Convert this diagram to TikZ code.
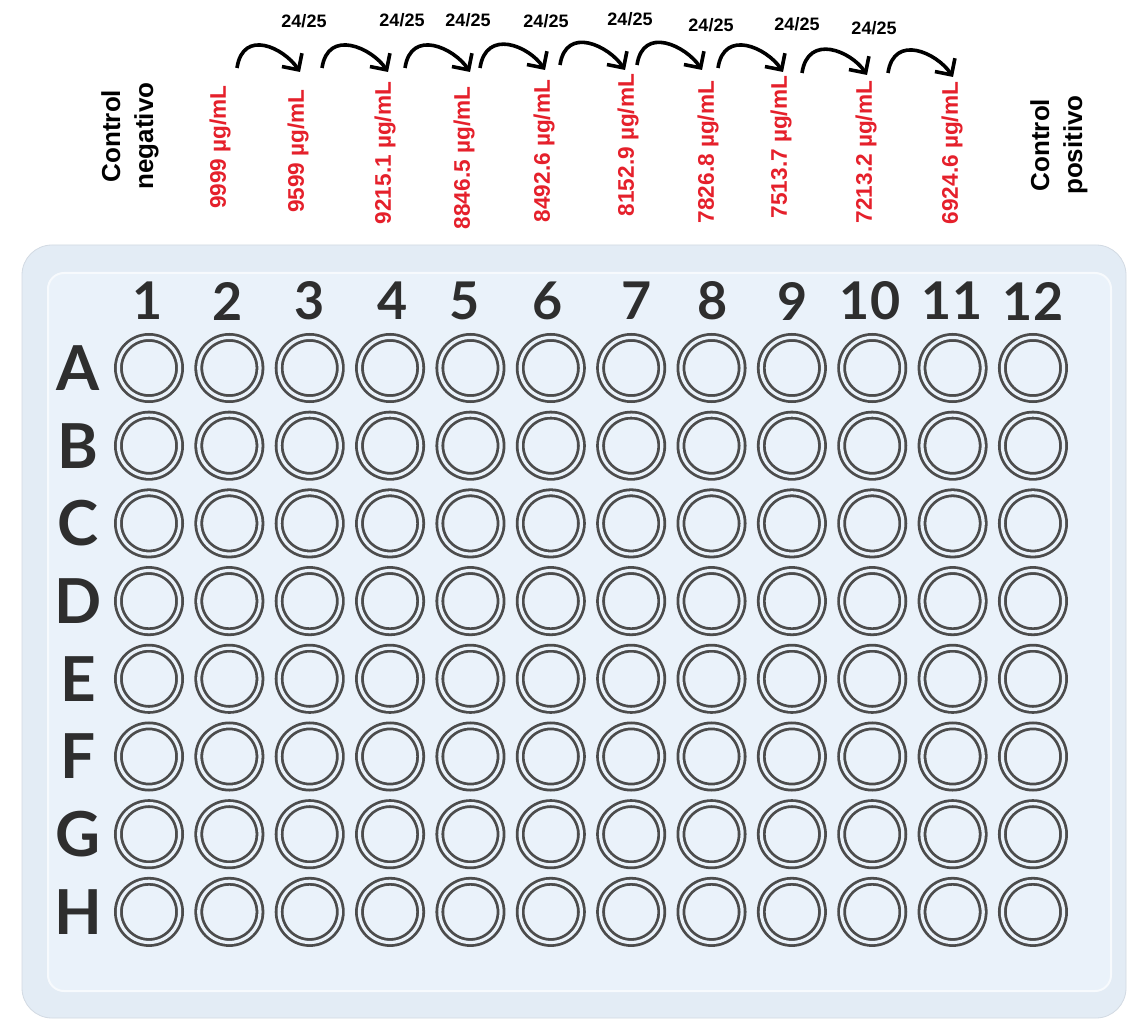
\documentclass[tikz,border=0pt]{standalone}
\usepackage{fontspec}
\setmainfont{Liberation Sans}
\newfontfamily\platefont{Lato}
\usetikzlibrary{arrows.meta}

\definecolor{plateblue}{HTML}{E3ECF5}
\definecolor{wellblue}{HTML}{EAF2FA}
\definecolor{rimgray}{HTML}{D2DAE3}
\definecolor{ringgray}{HTML}{4C4C4C}
\definecolor{concred}{HTML}{E5202B}
\definecolor{labelgray}{HTML}{2E2E2E}

\tikzset{
  conc/.style={rotate=90, text=concred, inner sep=0pt,
    font=\fontsize{11.3}{12}\selectfont\bfseries},
  ratio/.style={inner sep=0pt, font=\fontsize{9}{10}\selectfont\bfseries},
  ctrl/.style={rotate=90, align=center, inner sep=0pt,
    font=\fontsize{13}{16.5}\selectfont\bfseries},
  colnum/.style={text=labelgray, inner sep=0pt,
    font=\platefont\bfseries\fontsize{26}{28}\selectfont},
  rowlet/.style={text=labelgray, inner sep=0pt,
    font=\platefont\bfseries\fontsize{31}{33}\selectfont},
  well/.style={circle, minimum size=30.6pt, inner sep=0pt, draw=ringgray,
    line width=1.4pt, double=wellblue, double distance=1.6pt},
  transfer/.style={line width=1.8pt, -{Straight Barb[length=6pt,width=12pt]}},
}

\begin{document}
\begin{tikzpicture}[x=0.5pt, y=-0.5pt]
\fill[white] (0,0) rectangle (1128,1020);
\useasboundingbox (0,0) rectangle (1128,1020);

% plate body
\draw[fill=plateblue, draw=rimgray, rounded corners=15pt] (22,245) rectangle (1126,1018);
\draw[fill=wellblue, draw=white!60!wellblue, line width=1pt, rounded corners=8pt] (48,273) rectangle (1111,991);

% column numbers
\foreach \x [count=\c] in {148,228,310,393,465,548,637,713,793,870,952,1033}
  \node[colnum] (col\c) at (\x,301) {\c};

% rows of wells
\foreach \r [count=\i] in {A,B,C,D,E,F,G,H} {
  \node[rowlet] (row\r) at (78,{368+77.7*(\i-1)}) {\r};
  \foreach \c in {1,...,12}
    \node[well] (w\r\c) at ({149+80.36*(\c-1)},{368+77.7*(\i-1)}) {};
}

% controls
\node[ctrl] (negctrl) at (130,136) {Control\\negativo};
\node[ctrl] (posctrl) at (1059,145) {Control\\positivo};

% concentrations
\foreach \x/\y/\t [count=\k] in {220/147/9999, 298/151/9599, 385/153/9215.1,
    464/158/8846.5, 544/151/8492.6, 628/145/8152.9, 708/152/7826.8,
    781/147/7513.7, 866/152/7213.2, 952/153/6924.6}
  \node[conc] (conc\k) at (\x,\y) {\t{} µg/mL};

% dilution factors
\foreach \x/\y [count=\k] in {304/21, 402/20, 468/20, 546/21, 630/19, 711/25, 797/24, 874/28}
  \node[ratio] (ratio\k) at (\x,\y) {24/25};

% transfer arrows
\foreach \k/\xa/\ya/\xb/\yb in {1/237/68/300/72, 2/322/68/388/72, 3/405/68/470/72,
    4/480/68/545/70, 5/560/65/625/70, 6/637/65/702/70, 7/718/68/783/72,
    8/802/73/867/75, 9/888/73/953/77} {
  \coordinate (from\k) at (\xa,\ya);
  \coordinate (to\k) at (\xb,\yb);
  \draw[transfer] (from\k) .. controls +(6,-40) and +(-16,-24) .. (to\k);
}
\end{tikzpicture}
\end{document}
